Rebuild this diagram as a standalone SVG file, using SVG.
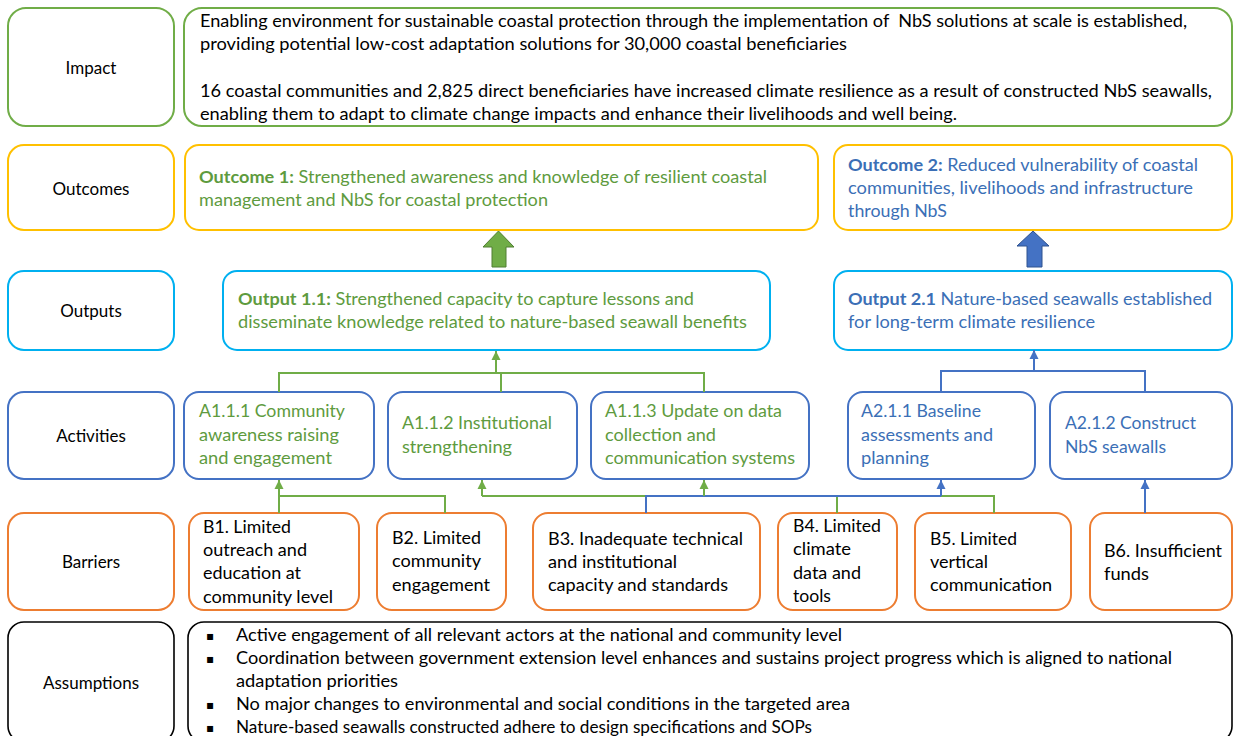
<svg xmlns="http://www.w3.org/2000/svg" width="1233" height="736" viewBox="0 0 1233 736">
<style>
text{font-family:Lato,"Open Sans","Liberation Sans",sans-serif;font-size:17px;fill:#000}
.lbl{text-anchor:middle}
.g{fill:#5E9B3E}
.b{fill:#3B6FB6}
.bd{font-weight:bold}
.box{fill:#fff;stroke-width:2}
.sg{stroke:#70AD47}
.sy{stroke:#FFC000}
.sc{stroke:#00B0F0}
.sb{stroke:#4472C4}
.so{stroke:#ED7D31}
.sk{stroke:#000;stroke-width:1.6}
.cg{fill:none;stroke:#70AD47;stroke-width:2}
.cb{fill:none;stroke:#4472C4;stroke-width:2}
.bul{font-family:"DejaVu Sans",sans-serif;font-size:12px}
</style>
<defs>
<marker id="mg" viewBox="0 0 10 10" refX="10" refY="5" markerUnits="userSpaceOnUse" markerWidth="9" markerHeight="10" orient="auto"><path d="M0,0 L10,5 L0,10 z" fill="#70AD47"/></marker>
<marker id="mb" viewBox="0 0 10 10" refX="10" refY="5" markerUnits="userSpaceOnUse" markerWidth="9" markerHeight="10" orient="auto"><path d="M0,0 L10,5 L0,10 z" fill="#4472C4"/></marker>
</defs>
<rect width="1233" height="736" fill="#fff"/>

<g id="label-impact"><rect class="box sg" x="8" y="8" width="166" height="118" rx="18"/><text class="lbl" x="91" y="74">Impact</text></g>
<g id="label-outcomes"><rect class="box sy" x="8" y="145" width="166" height="85" rx="16"/><text class="lbl" x="91" y="195">Outcomes</text></g>
<g id="label-outputs"><rect class="box sc" x="8" y="271" width="166" height="79" rx="16"/><text class="lbl" x="91" y="317">Outputs</text></g>
<g id="label-activities"><rect class="box sb" x="8" y="392" width="166" height="87" rx="16"/><text class="lbl" x="91" y="442">Activities</text></g>
<g id="label-barriers"><rect class="box so" x="8" y="513" width="166" height="97" rx="16"/><text class="lbl" x="91" y="568">Barriers</text></g>
<g id="label-assumptions"><rect class="box sk" x="8" y="622" width="166" height="120" rx="16"/><text class="lbl" x="91" y="689">Assumptions</text></g>

<g id="impact"><rect class="box sg" x="184" y="8" width="1048" height="118" rx="18"/>
<text x="200" y="27" textLength="987" lengthAdjust="spacingAndGlyphs">Enabling environment for sustainable coastal protection through the implementation of&#160; NbS solutions at scale is established,</text>
<text x="200" y="50" textLength="647" lengthAdjust="spacingAndGlyphs">providing potential low-cost adaptation solutions for 30,000 coastal beneficiaries</text>
<text x="200" y="97" textLength="1012" lengthAdjust="spacingAndGlyphs">16 coastal communities and 2,825 direct beneficiaries have increased climate resilience as a result of constructed NbS seawalls,</text>
<text x="200" y="120" textLength="757" lengthAdjust="spacingAndGlyphs">enabling them to adapt to climate change impacts and enhance their livelihoods and well being.</text>
</g>

<g id="outcome1"><rect class="box sy" x="185" y="145" width="633" height="85" rx="14"/>
<text class="g" x="199" y="183" textLength="568" lengthAdjust="spacingAndGlyphs"><tspan class="bd">Outcome 1:</tspan> Strengthened awareness and knowledge of resilient coastal</text>
<text class="g" x="199" y="206" textLength="349" lengthAdjust="spacingAndGlyphs">management and NbS for coastal protection</text>
</g>
<g id="outcome2"><rect class="box sy" x="834" y="145" width="398" height="85" rx="14"/>
<text class="b" x="848" y="171" textLength="350" lengthAdjust="spacingAndGlyphs"><tspan class="bd">Outcome 2:</tspan> Reduced vulnerability of coastal</text>
<text class="b" x="848" y="194" textLength="345" lengthAdjust="spacingAndGlyphs">communities, livelihoods and infrastructure</text>
<text class="b" x="848" y="217" textLength="99" lengthAdjust="spacingAndGlyphs">through NbS</text>
</g>

<g id="arrow-out1"><path d="M498.5,231 L514,247 L506,247 L506,267 L492,267 L492,247 L483,247 Z" fill="#70AD47" stroke="#507E32" stroke-width="1"/></g>
<g id="arrow-out2"><path d="M1033,231 L1049,246 L1042,246 L1042,267 L1027,267 L1027,246 L1017,246 Z" fill="#4472C4" stroke="#2F528F" stroke-width="1"/></g>

<g id="output11"><rect class="box sc" x="223" y="271" width="547" height="79" rx="14"/>
<text class="g" x="238" y="305" textLength="456" lengthAdjust="spacingAndGlyphs"><tspan class="bd">Output 1.1:</tspan> Strengthened capacity to capture lessons and</text>
<text class="g" x="238" y="328" textLength="509" lengthAdjust="spacingAndGlyphs">disseminate knowledge related to nature-based seawall benefits</text>
</g>
<g id="output21"><rect class="box sc" x="834" y="271" width="398" height="79" rx="14"/>
<text class="b" x="848" y="305" textLength="364" lengthAdjust="spacingAndGlyphs"><tspan class="bd">Output 2.1</tspan> Nature-based seawalls established</text>
<text class="b" x="848" y="328" textLength="247" lengthAdjust="spacingAndGlyphs">for long-term climate resilience</text>
</g>

<g id="a111"><rect class="box sb" x="184" y="392" width="190" height="87" rx="15"/>
<text class="g" x="199" y="417" textLength="146" lengthAdjust="spacingAndGlyphs">A1.1.1 Community</text>
<text class="g" x="199" y="441" textLength="140" lengthAdjust="spacingAndGlyphs">awareness raising</text>
<text class="g" x="199" y="464" textLength="133" lengthAdjust="spacingAndGlyphs">and engagement</text>
</g>
<g id="a112"><rect class="box sb" x="388" y="392" width="189" height="87" rx="15"/>
<text class="g" x="402" y="429" textLength="150" lengthAdjust="spacingAndGlyphs">A1.1.2 Institutional</text>
<text class="g" x="402" y="453" textLength="110" lengthAdjust="spacingAndGlyphs">strengthening</text>
</g>
<g id="a113"><rect class="box sb" x="591" y="392" width="218" height="87" rx="15"/>
<text class="g" x="605" y="417" textLength="177" lengthAdjust="spacingAndGlyphs">A1.1.3 Update on data</text>
<text class="g" x="605" y="441" textLength="111" lengthAdjust="spacingAndGlyphs">collection and</text>
<text class="g" x="605" y="464" textLength="190" lengthAdjust="spacingAndGlyphs">communication systems</text>
</g>
<g id="a211"><rect class="box sb" x="848" y="392" width="187" height="87" rx="15"/>
<text class="b" x="861" y="417" textLength="120" lengthAdjust="spacingAndGlyphs">A2.1.1 Baseline</text>
<text class="b" x="861" y="441" textLength="132" lengthAdjust="spacingAndGlyphs">assessments and</text>
<text class="b" x="861" y="464" textLength="68" lengthAdjust="spacingAndGlyphs">planning</text>
</g>
<g id="a212"><rect class="box sb" x="1050" y="392" width="182" height="87" rx="15"/>
<text class="b" x="1065" y="429" textLength="131" lengthAdjust="spacingAndGlyphs">A2.1.2 Construct</text>
<text class="b" x="1065" y="453" textLength="101" lengthAdjust="spacingAndGlyphs">NbS seawalls</text>
</g>

<g id="b1"><rect class="box so" x="189" y="513" width="170" height="97" rx="15"/>
<text x="203" y="533" textLength="88" lengthAdjust="spacingAndGlyphs">B1. Limited</text>
<text x="203" y="556" textLength="104" lengthAdjust="spacingAndGlyphs">outreach and</text>
<text x="203" y="579" textLength="98" lengthAdjust="spacingAndGlyphs">education at</text>
<text x="203" y="603" textLength="130" lengthAdjust="spacingAndGlyphs">community level</text>
</g>
<g id="b2"><rect class="box so" x="377" y="513" width="129" height="97" rx="15"/>
<text x="392" y="544" textLength="89" lengthAdjust="spacingAndGlyphs">B2. Limited</text>
<text x="392" y="567" textLength="89" lengthAdjust="spacingAndGlyphs">community</text>
<text x="392" y="591" textLength="98" lengthAdjust="spacingAndGlyphs">engagement</text>
</g>
<g id="b3"><rect class="box so" x="533" y="513" width="227" height="97" rx="15"/>
<text x="548" y="545" textLength="195" lengthAdjust="spacingAndGlyphs">B3. Inadequate technical</text>
<text x="548" y="568" textLength="129" lengthAdjust="spacingAndGlyphs">and institutional</text>
<text x="548" y="591" textLength="180" lengthAdjust="spacingAndGlyphs">capacity and standards</text>
</g>
<g id="b4"><rect class="box so" x="778" y="513" width="119" height="97" rx="15"/>
<text x="793" y="532" textLength="88" lengthAdjust="spacingAndGlyphs">B4. Limited</text>
<text x="793" y="555" textLength="58" lengthAdjust="spacingAndGlyphs">climate</text>
<text x="793" y="579" textLength="68" lengthAdjust="spacingAndGlyphs">data and</text>
<text x="793" y="602" textLength="38" lengthAdjust="spacingAndGlyphs">tools</text>
</g>
<g id="b5"><rect class="box so" x="915" y="513" width="156" height="97" rx="15"/>
<text x="930" y="545" textLength="87" lengthAdjust="spacingAndGlyphs">B5. Limited</text>
<text x="930" y="568" textLength="58" lengthAdjust="spacingAndGlyphs">vertical</text>
<text x="930" y="591" textLength="122" lengthAdjust="spacingAndGlyphs">communication</text>
</g>
<g id="b6"><rect class="box so" x="1090" y="513" width="142" height="97" rx="15"/>
<text x="1104" y="557" textLength="118" lengthAdjust="spacingAndGlyphs">B6. Insufficient</text>
<text x="1104" y="580" textLength="45" lengthAdjust="spacingAndGlyphs">funds</text>
</g>

<g id="assumptions"><rect class="box sk" x="188" y="622" width="1044" height="120" rx="16"/>
<text class="bul" x="206" y="640">▪</text>
<text x="236" y="641" textLength="606" lengthAdjust="spacingAndGlyphs">Active engagement of all relevant actors at the national and community level</text>
<text class="bul" x="206" y="663">▪</text>
<text x="236" y="664" textLength="936" lengthAdjust="spacingAndGlyphs">Coordination between government extension level enhances and sustains project progress which is aligned to national</text>
<text x="236" y="687" textLength="162" lengthAdjust="spacingAndGlyphs">adaptation priorities</text>
<text class="bul" x="206" y="709">▪</text>
<text x="236" y="710" textLength="614" lengthAdjust="spacingAndGlyphs">No major changes to environmental and social conditions in the targeted area</text>
<text class="bul" x="206" y="732">▪</text>
<text x="236" y="733" textLength="576" lengthAdjust="spacingAndGlyphs">Nature-based seawalls constructed adhere to design specifications and SOPs</text>
</g>

<g id="connectors">
<path class="cg" d="M279,392 V373 H704 V392 M501,373 V392"/>
<path class="cg" d="M496,373 V351" marker-end="url(#mg)"/>
<path class="cb" d="M941,392 V371 H1145 V392"/>
<path class="cb" d="M1034,371 V350" marker-end="url(#mb)"/>
<path class="cg" d="M279,513 V480" marker-end="url(#mg)"/>
<path class="cg" d="M279,496 H445 V513"/>
<path class="cg" d="M482,496 H994 V513 M837,496 V513"/>
<path class="cg" d="M482,496 V480" marker-end="url(#mg)"/>
<path class="cb" d="M646,513 V496 H941"/>
<path class="cg" d="M704,496 V480" marker-end="url(#mg)"/>
<path class="cb" d="M941,496 V480" marker-end="url(#mb)"/>
<path class="cb" d="M1145,513 V480" marker-end="url(#mb)"/>
</g>
</svg>
